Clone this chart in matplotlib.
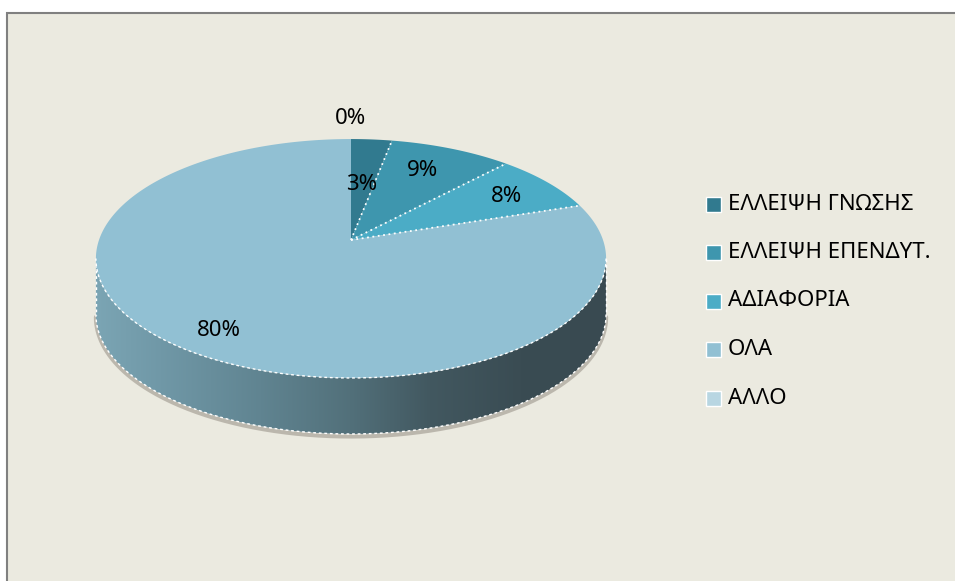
import matplotlib
matplotlib.use('Agg')
import matplotlib.pyplot as plt
import matplotlib.patches as patches
import numpy as np

# Данные диаграммы
categories = ['ΕΛΛΕΙΨΗ ΓΝΩΣΗΣ', 'ΕΛΛΕΙΨΗ ΕΠΕΝΔΥΤ.', 'ΑΔΙΑΦΟΡΙΑ', 'ΟΛΑ', 'ΑΛΛΟ']
values = [3, 9, 8, 80, 0]
labels = ['3%', '9%', '8%', '80%', '0%']
colors = ['#317A8F', '#3E96AE', '#4BACC6', '#91C0D3', '#B8D6E2']

FONT = ['Noto Sans', 'DejaVu Sans']
BG = '#EBEAE0'

fig = plt.figure(figsize=(9.55, 5.81), dpi=100, facecolor='white')
ax = fig.add_axes([0, 0, 1, 1])
ax.set_xlim(0, 955)
ax.set_ylim(581, 0)
ax.axis('off')

# рамка области диаграммы
ax.add_patch(patches.Rectangle((7, 13), 960, 580, facecolor=BG, edgecolor='#808080', lw=1.5, zorder=0))

# геометрия перспективного круга
CX, CY = 351, 240
A, B, K = 252.0, 116.6, 0.155
DEPTH = 56


def proj(theta, dz=0.0):
    u, v = np.sin(theta), np.cos(theta)
    w = 1 + K * v
    return CX + A * u / w, CY - B * v / w + dz


# боковая стенка (видимая передняя часть)
t_side = np.linspace(np.arccos(-K), 2 * np.pi - np.arccos(-K), 300)
xt, yt = proj(t_side)
xb, yb = proj(t_side, DEPTH)
side_xy = np.column_stack([np.r_[xt, xb[::-1]], np.r_[yt, yb[::-1]]])
side = patches.Polygon(side_xy, closed=True, facecolor='none', edgecolor='none', zorder=2)
ax.add_patch(side)

# тень под кругом
ax.plot(xb[::-1], yb[::-1] + 2.5, color='#9C968C', lw=3, alpha=0.6, zorder=1.5, solid_capstyle='round')

# градиент боковой стенки
gx = np.array([90, 160, 260, 350, 430, 520, 620])
gc = np.array([[124, 166, 181], [112, 152, 167], [96, 132, 145],
               [82, 112, 122], [66, 88, 96], [58, 76, 83], [57, 74, 81]]) / 255.0
xs = np.linspace(90, 620, 400)
grad = np.stack([np.interp(xs, gx, gc[:, i]) for i in range(3)], axis=-1)[None, :, :]
im = ax.imshow(grad, extent=(90, 620, 450, 240), aspect='auto', zorder=2.1, interpolation='bilinear')
im.set_clip_path(side)
ax.set_xlim(0, 955)
ax.set_ylim(581, 0)

# пунктирные кромки боковой стенки
ax.plot(xb, yb, color='white', lw=1.0, ls=(0, (2, 2)), zorder=2.5)
for tt in [t_side[0], t_side[-1]]:
    x0, y0 = proj(tt)
    ax.plot([x0, x0], [y0, y0 + DEPTH], color='white', lw=1.0, ls=(0, (2, 2)), zorder=2.5)

# верхняя грань: секторы
total = float(sum(values))
start = 0.0
bounds = []
for val, col in zip(values, colors):
    ang = 2 * np.pi * val / total
    if val > 0:
        tt = np.linspace(start, start + ang, max(int(val * 6), 10))
        px, py = proj(tt)
        verts = np.column_stack([np.r_[CX, px, CX], np.r_[CY, py, CY]])
        ax.add_patch(patches.Polygon(verts, closed=True, facecolor=col, edgecolor='none', zorder=3))
    bounds.append(start)
    start += ang

# белые пунктирные границы секторов
for b in bounds[1:4]:
    ex, ey = proj(b)
    ax.plot([CX, ex], [CY, ey], color='white', lw=1.3, ls=(0, (1, 2)), zorder=4)
ax.plot(xt, yt, color='white', lw=1.0, ls=(0, (2, 2)), zorder=4)

# подписи долей
label_pos = [(362, 185), (422, 171), (506, 196), (219, 331), (350, 118)]
for txt, (lx, ly) in zip(labels, label_pos):
    ax.text(lx, ly, txt, fontsize=16, family=FONT, ha='center', va='center', color='black', zorder=6)

# легенда
for i, (cat, col) in enumerate(zip(categories, colors)):
    ly = 204 + i * 48.5
    ax.add_patch(patches.Rectangle((706, ly - 7.5), 15, 15, facecolor=col, edgecolor='white', lw=1, zorder=5))
    ax.text(728, ly, cat, fontsize=16, family=FONT, ha='left', va='center', color='black', zorder=6)

fig.savefig('out.png', dpi=100, facecolor='white')
